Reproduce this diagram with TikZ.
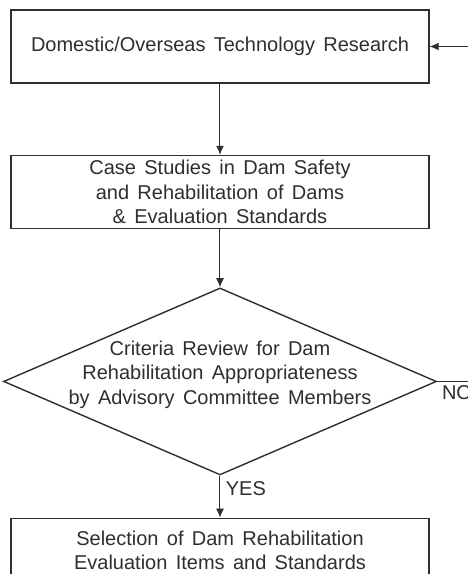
\documentclass[tikz,border=0pt]{standalone}
\usepackage{fontspec}
\setmainfont[WordSpace=1.5]{Liberation Sans}
\usepackage{xcolor}
\usetikzlibrary{shapes.geometric,arrows.meta,positioning}
\definecolor{cInk}{HTML}{2E2E2E}

\begin{document}
\begin{tikzpicture}[
  b/.style={draw=cInk,line width=1.5pt,align=center,text=cInk,
            font=\fontsize{20}{24.5}\selectfont,
            minimum width=418pt,minimum height=73pt,inner sep=2pt},
  d/.style={draw=cInk,diamond,line width=1.4pt,inner sep=0pt,
            minimum width=433pt,minimum height=187pt},
  t/.style={align=center,text=cInk,font=\fontsize{20}{24.5}\selectfont},
  fl/.style={-{Latex[length=9pt,width=8pt]},draw=cInk,line width=1pt,
             font=\fontsize{20}{24.5}\selectfont,text=cInk},
  ]
  \useasboundingbox (-220pt,46.5pt) rectangle (247pt,-527.5pt);
  \node[b] (dom) at (0,0) {Domestic/Overseas Technology Research};
  \node[b,below=71pt of dom] (cas)
    {Case Studies in Dam Safety\\and Rehabilitation of Dams\\\& Evaluation Standards};
  \node[d,below=58pt of cas] (rev) {};
  \node[t,yshift=7pt] (revtxt) at (rev)
    {Criteria Review for Dam\\Rehabilitation Appropriateness\\by Advisory Committee Members};
  \node[b,below=42pt of rev,minimum height=64pt] (sel)
    {Selection of Dam Rehabilitation\\Evaluation Items and Standards};

  \draw[fl] (dom) -- (cas);
  \draw[fl] (cas) -- (rev);
  \draw[fl] (rev.south) -- node[pos=0.31,right,xshift=2pt]{YES} (sel);
  \draw[fl] (rev.east) -- node[pos=0,below right,xshift=1pt]{NO} ++(40pt,0)
    |- (dom.east);
\end{tikzpicture}
\end{document}
